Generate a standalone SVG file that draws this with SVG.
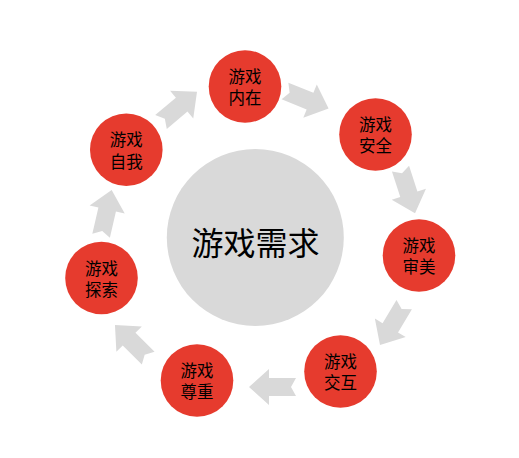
<svg xmlns="http://www.w3.org/2000/svg" width="519" height="458" viewBox="0 0 519 458">
<defs>
<style>
.node{fill:#e63b2e}
.hub{fill:#d9d9d9}
.arr{fill:#d9d9d9}
.t{font-family:"Noto Sans CJK SC","Noto Sans",sans-serif;font-size:16.5px;fill:#000;text-anchor:middle;dominant-baseline:central}
.big{font-family:"Noto Sans CJK SC","Noto Sans",sans-serif;font-size:32px;fill:#000;text-anchor:middle;dominant-baseline:central}
</style>
<path id="ar" d="M0,-9 L27,-9 L27,-18 L47,0 L27,18 L27,9 L0,9 L5,0 Z"/>
</defs>
<rect width="519" height="458" fill="#fff"/>
<g id="connectors" class="arr">
<use href="#ar" transform="translate(161,122) rotate(-40)"/>
<use href="#ar" transform="translate(285,91) rotate(22)"/>
<use href="#ar" transform="translate(400.5,168.6) rotate(72)"/>
<use href="#ar" transform="translate(404.2,304.7) rotate(121)"/>
<use href="#ar" transform="translate(296,387) rotate(180)"/>
<use href="#ar" transform="translate(148.2,358.2) rotate(225)"/>
<use href="#ar" transform="translate(101.1,235.8) rotate(-77)"/>
</g>
<g id="hub">
<circle class="hub" cx="255.3" cy="237.5" r="88.5"/>
<text class="big" x="255.5" y="241">游戏需求</text>
</g>
<g id="n-neizai">
<circle class="node" cx="245" cy="86.5" r="36.3"/>
<text class="t" x="245" y="76">游戏<tspan x="245" dy="21">内在</tspan></text>
</g>
<g id="n-anquan">
<circle class="node" cx="375.5" cy="134.5" r="36.3"/>
<text class="t" x="375.5" y="124">游戏<tspan x="375.5" dy="21">安全</tspan></text>
</g>
<g id="n-shenmei">
<circle class="node" cx="419" cy="255.5" r="36.3"/>
<text class="t" x="419" y="245">游戏<tspan x="419" dy="21">审美</tspan></text>
</g>
<g id="n-jiaohu">
<circle class="node" cx="340.5" cy="371.5" r="36.3"/>
<text class="t" x="340.5" y="361">游戏<tspan x="340.5" dy="21">交互</tspan></text>
</g>
<g id="n-zunzhong">
<circle class="node" cx="197" cy="380.5" r="36.3"/>
<text class="t" x="197" y="370">游戏<tspan x="197" dy="21">尊重</tspan></text>
</g>
<g id="n-tansuo">
<circle class="node" cx="101.5" cy="278" r="36.3"/>
<text class="t" x="101.5" y="267.5">游戏<tspan x="101.5" dy="21">探索</tspan></text>
</g>
<g id="n-ziwo">
<circle class="node" cx="126.3" cy="149.7" r="36.3"/>
<text class="t" x="126.3" y="139">游戏<tspan x="126.3" dy="21.5">自我</tspan></text>
</g>
</svg>
